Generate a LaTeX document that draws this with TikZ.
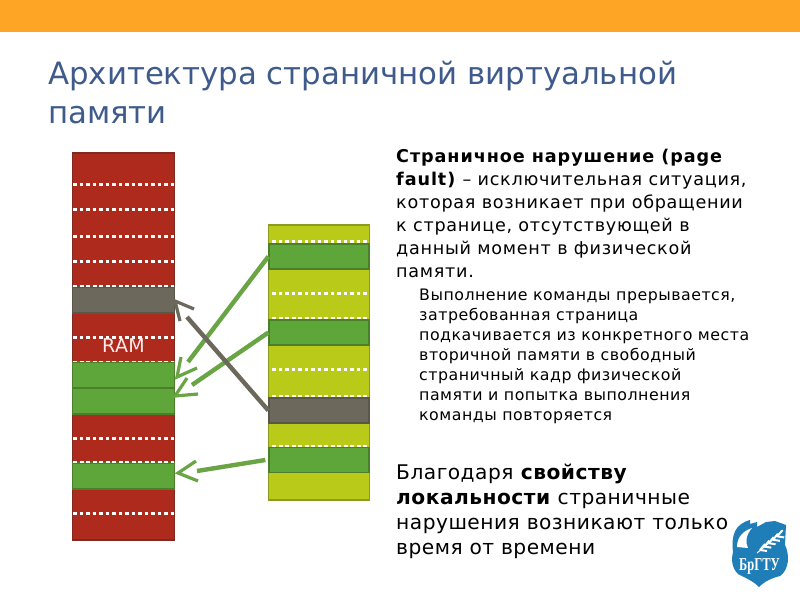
\documentclass[tikz,border=0pt]{standalone}
\usepackage{fontspec}
\setmainfont{DejaVu Sans}
\newfontfamily\spa[LetterSpace=4.1,BoldFeatures={LetterSpace=5.2}]{DejaVu Sans}
\newfontfamily\spb[LetterSpace=3.2]{DejaVu Sans}
\newfontfamily\spc[LetterSpace=2.4]{DejaVu Sans}
\newfontfamily\spr[LetterSpace=2]{DejaVu Sans}
\newfontfamily\logofont{Liberation Serif}
\definecolor{band}{HTML}{FFA526}
\definecolor{titleblue}{HTML}{3F5B8C}
\definecolor{redc}{HTML}{AD2A1C}
\definecolor{redb}{HTML}{7E2A20}
\definecolor{greenc}{HTML}{5FA63A}
\definecolor{greenb}{HTML}{4C7F2A}
\definecolor{yelc}{HTML}{B9CB18}
\definecolor{yelb}{HTML}{8C9A22}
\definecolor{grayc}{HTML}{6D685C}
\definecolor{grayb}{HTML}{59564A}
\definecolor{arrg}{HTML}{69A545}
\definecolor{logoblue}{HTML}{1F7DB8}
\tikzset{
  x=1pt,y=-1pt,
  cellbox/.style={draw=#1,line width=1.3pt},
  dots/.style={draw=white,line width=3pt,dash pattern=on 3.5pt off 3pt},
  thin dots/.style={draw=white,line width=1.4pt,dash pattern=on 4pt off 2.5pt},
  shaft/.style={line width=4.4pt},
  barb/.style={line width=3.2pt},
  txt/.style={anchor=north west,inner sep=0pt,align=left,text=black},
}
\begin{document}
\begin{tikzpicture}
\useasboundingbox (0,0) rectangle (800,600);
\fill[white] (0,0) rectangle (800,600);
\fill[band] (0,0) rectangle (800,32);
\node[anchor=base west,inner sep=0pt,text=titleblue,font=\fontsize{30.8}{36}\selectfont,align=left] (title) at (48,84) {Архитектура страничной виртуальной};
\node[anchor=base west,inner sep=0pt,text=titleblue,font=\fontsize{30.8}{36}\selectfont] (title2) at (48,123) {памяти};
% RAM column
\path[cellbox=redb,fill=redc] (72.5,153) rectangle (174.5,540);
\node[cellbox=grayb,fill=grayc,inner sep=0pt] (rgray) at (123.5,300) {\tikz[baseline]\path (0,0) rectangle (102,-26);};
\node[cellbox=greenb,fill=greenc,inner sep=0pt] (rg1) at (123.5,375) {\tikz[baseline]\path (0,0) rectangle (102,-26);};
\node[cellbox=greenb,fill=greenc,inner sep=0pt] (rg2) at (123.5,401) {\tikz[baseline]\path (0,0) rectangle (102,-26);};
\node[cellbox=greenb,fill=greenc,inner sep=0pt] (rg3) at (123.5,476) {\tikz[baseline]\path (0,0) rectangle (102,-26);};
\foreach \y in {184,209,236.5,261,337,513,438.5}{\draw[dots] (73,\y) -- (174,\y);}
\foreach \y in {286,361.5,462}{\draw[thin dots] (73,\y) -- (174,\y);}
\node[text=white!92!red,font=\spr\fontsize{19}{20}\selectfont,inner sep=0pt] (ram) at (123.5,345.5) {RAM};
% Virtual column
\path[cellbox=yelb,fill=yelc] (268.5,225) rectangle (369.5,500);
\node[cellbox=greenb,fill=greenc,inner sep=0pt] (vg1) at (319,256.5) {\tikz[baseline]\path (0,0) rectangle (100,-25);};
\node[cellbox=greenb,fill=greenc,inner sep=0pt] (vg2) at (319,332.5) {\tikz[baseline]\path (0,0) rectangle (100,-25);};
\node[cellbox=grayb,fill=grayc,inner sep=0pt] (vgray) at (319,410.5) {\tikz[baseline]\path (0,0) rectangle (100,-25);};
\node[cellbox=greenb,fill=greenc,inner sep=0pt] (vg3) at (319,460) {\tikz[baseline]\path (0,0) rectangle (100,-25);};
\draw[dots] (272,241) -- (368,241);
\draw[dots] (272,293) -- (368,293);
\draw[dots] (272,369) -- (368,369);
\foreach \y in {318,396,446}{\draw[thin dots] (272,\y) -- (368,\y);}
% Connector ends
\coordinate (e1) at (188,362);
\coordinate (t1) at (177,377);
\coordinate (e2) at (192,385);
\coordinate (t2) at (175,396);
\coordinate (e3) at (187,317);
\coordinate (t3) at (175,301);
\coordinate (e4) at (197,471);
\coordinate (t4) at (178,473);
\draw[shaft,arrg] (vg1.west) -- (e1);
\draw[shaft,arrg] (vg2.west) -- (e2);
\draw[shaft,grayc] (vgray.west) -- (e3);
\draw[shaft,arrg] ([xshift=-3pt]vg3.west) -- (e4);
\draw[barb,arrg] (181,357) -- (t1) -- (197,368);
\draw[barb,arrg] (187,378) -- (t2) -- (198,394);
\draw[barb,grayc] (194,309) -- (t3) -- (180,321);
\draw[barb,arrg] (196,461) -- (t4) -- (198,481);
% Text
\node[txt,font=\spa\fontsize{17.6}{22.9}\selectfont] (p1) at (396,149) {\textbf{Страничное нарушение (page}\\\textbf{fault)} – исключительная ситуация,\\которая возникает при обращении\\к странице, отсутствующей в\\данный момент в физической\\памяти.};
\node[txt,font=\spb\fontsize{15.8}{20}\selectfont] (p2) at (419,289) {Выполнение команды прерывается,\\затребованная страница\\подкачивается из конкретного места\\вторичной памяти в свободный\\страничный кадр физической\\памяти и попытка выполнения\\команды повторяется};
\node[txt,font=\spc\fontsize{20.2}{25}\selectfont] (p3) at (396,464) {Благодаря \textbf{свойству}\\\textbf{локальности} страничные\\нарушения возникают только\\время от времени};
% Logo
\fill[logoblue] (733,552) .. controls (731,535) and (735,524) .. (750,520) -- (750,524) -- (757,522) -- (757,527) -- (766,522) -- (775,521) -- (786,525) -- (785,545) .. controls (790,555) and (789,570) .. (780,576) .. controls (772,578) and (765,581) .. (759,587) .. controls (752,580) and (745,578) .. (738,574) .. controls (732,568) and (731,560) .. (733,552) -- cycle;
\fill[white] (737,547) .. controls (737,537) and (743,531) .. (752,528) .. controls (746,535) and (745,542) .. (748,548) -- cycle;
\draw[white,line width=1pt] (757,553) .. controls (763,548) and (773,540) .. (783,530);
\foreach \i in {0,1,2,3,4}{
  \draw[white,line width=2pt] (760+\i*4.3,550-\i*3.4) -- ++(5,-6);
  \draw[white,line width=2pt] (760+\i*4.3,550-\i*3.4) -- ++(7,1);
}
\node[text=white,inner sep=0pt,yscale=1.45,font=\logofont\fontsize{12.5}{13}\selectfont\bfseries] (logo) at (759.5,566.5) {БрГТУ};
\end{tikzpicture}
\end{document}
